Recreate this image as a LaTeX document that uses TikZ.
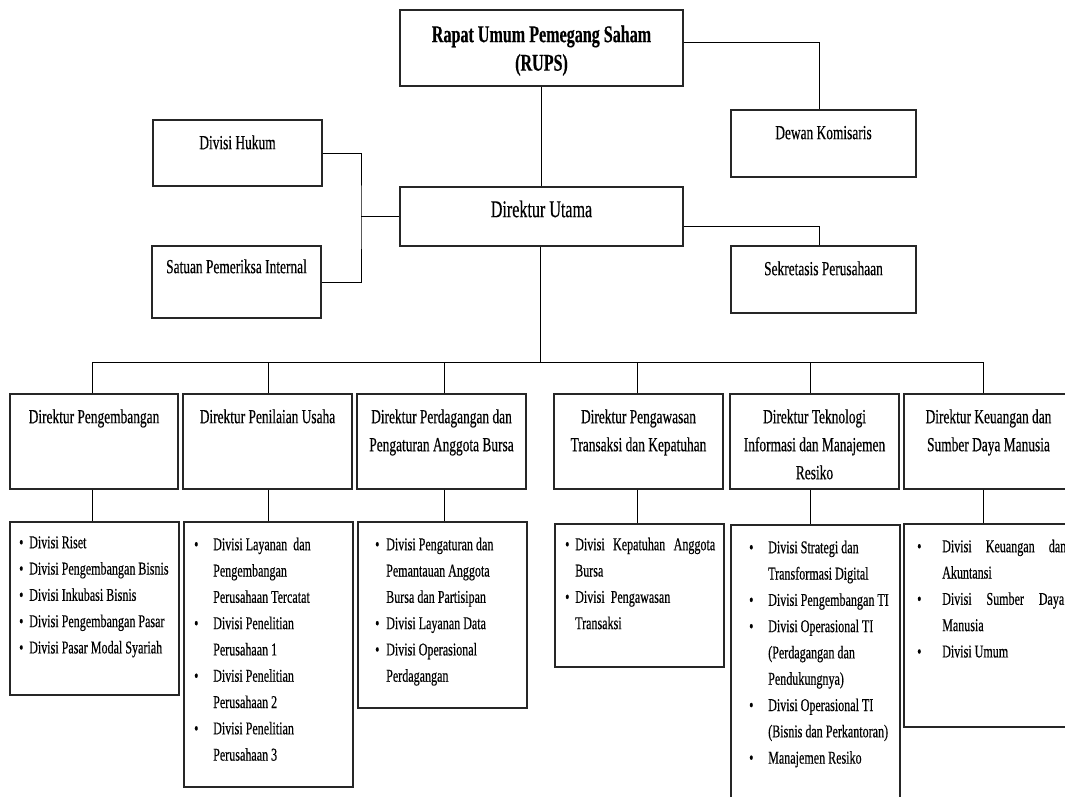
\documentclass[tikz,border=0pt]{standalone}
\usepackage{fontspec}
\setmainfont{Liberation Serif}[FakeStretch=0.67, FakeBold=0.4]
\usetikzlibrary{calc}
\newcommand{\fbig}{\fontsize{24}{28.5}\selectfont}
\newcommand{\fmid}{\fontsize{20}{28}\selectfont}
\newcommand{\fsub}{\fontsize{18}{26.3}\selectfont}
\newcommand{\bl}[1]{\makebox[#1][l]{\textbullet}}
\newcommand{\ind}[1]{\hspace*{#1}}
\begin{document}
\begin{tikzpicture}[x=1pt,y=-1pt,
  box/.style={draw=black!85, line width=1.3pt, rectangle, inner sep=0pt},
  conn/.style={draw=black, line width=1pt},
  ttl/.style={inner sep=0pt, anchor=north, align=center, text=black},
  lst/.style={inner sep=0pt, anchor=north west, align=left, font=\fsub}]
\useasboundingbox (0,0) rectangle (1065,796);
\fill[white] (0,0) rectangle (1065,796);

% top boxes
\node[box, minimum width=283, minimum height=76] (rups) at (541.5,48) {};
\node[box, minimum width=283, minimum height=59] (du) at (541.5,216.5) {};
\node[box, minimum width=169, minimum height=66] (hukum) at (237.5,153) {};
\node[box, minimum width=169, minimum height=72] (spi) at (236.5,282) {};
\node[box, minimum width=185, minimum height=67] (dewan) at (823.5,143.5) {};
\node[box, minimum width=185, minimum height=67] (sek) at (823.5,279.5) {};

\node[ttl, font=\fbig\bfseries] (t-rups) at (541.5,22) {\strut Rapat Umum Pemegang Saham\\(RUPS)};
\node[ttl, font=\fbig] (t-du) at (541.5,197) {\strut Direktur Utama};
\node[ttl, font=\fmid] (t-hukum) at (237.5,129.4) {\strut Divisi Hukum};
\node[ttl, font=\fmid] (t-spi) at (236.5,253.4) {\strut Satuan Pemeriksa Internal};
\node[ttl, font=\fmid] (t-dewan) at (823.5,119.4) {\strut Dewan Komisaris};
\node[ttl, font=\fmid] (t-sek) at (823.5,255.4) {\strut Sekretasis Perusahaan};

% top connectors
\draw[conn] (rups.south) -- (du.north);
\draw[conn] ([yshift=6pt]rups.east) -| ([xshift=-4.5pt]dewan.north);
\draw[conn] ([yshift=-9.5pt]du.east) -| ([xshift=-4.5pt]sek.north);
\coordinate (lj) at (361,216.5);
\draw[conn] (hukum.east) -| (lj) |- (spi.east);
\draw[conn] (lj) -- (du.west);

% director boxes
\node[box, minimum width=168, minimum height=95] (d1) at (94,441.5) {};
\node[box, minimum width=169, minimum height=95] (d2) at (267.5,441.5) {};
\node[box, minimum width=169, minimum height=95] (d3) at (441.5,441.5) {};
\node[box, minimum width=169, minimum height=95] (d4) at (638.5,441.5) {};
\node[box, minimum width=169, minimum height=95] (d5) at (814.5,441.5) {};
\node[box, minimum width=169, minimum height=95] (d6) at (988.5,441.5) {};

\node[ttl, font=\fmid] (t-d1) at (94,403.4) {\strut Direktur Pengembangan};
\node[ttl, font=\fmid] (t-d2) at (267.5,403.4) {\strut Direktur Penilaian Usaha};
\node[ttl, font=\fmid] (t-d3) at (441.5,403.4) {\strut Direktur Perdagangan dan\\Pengaturan Anggota Bursa};
\node[ttl, font=\fmid] (t-d4) at (638.5,403.4) {\strut Direktur Pengawasan\\Transaksi dan Kepatuhan};
\node[ttl, font=\fmid] (t-d5) at (814.5,403.4) {\strut Direktur Teknologi\\Informasi dan Manajemen\\Resiko};
\node[ttl, font=\fmid] (t-d6) at (988.5,403.4) {\strut Direktur Keuangan dan\\Sumber Daya Manusia};

% drop points
\coordinate (p1) at ([xshift=-2pt]d1.north);
\coordinate (p2) at ([xshift=0.5pt]d2.north);
\coordinate (p3) at ([xshift=2.5pt]d3.north);
\coordinate (p4) at ([xshift=-1.5pt]d4.north);
\coordinate (p5) at ([xshift=-4.5pt]d5.north);
\coordinate (p6) at ([xshift=-5.5pt]d6.north);

% bus
\coordinate (bus) at (540,362);
\draw[conn] ([xshift=-1.5pt]du.south) -- (bus);
\draw[conn] (p1 |- bus) -- (p6 |- bus);
\foreach \p in {p1,p2,p3,p4,p5,p6} {\draw[conn] (\p) -- (\p |- bus);}

% sub boxes
\node[box, minimum width=169, minimum height=173] (s1) at (94.5,608.5) {};
\node[box, minimum width=169, minimum height=265] (s2) at (268.5,654.5) {};
\node[box, minimum width=169, minimum height=186] (s3) at (442.5,615) {};
\node[box, minimum width=169, minimum height=143] (s4) at (639.5,595.5) {};
\node[box, minimum width=169, minimum height=285] (s5) at (815.5,667.5) {};
\node[box, minimum width=169, minimum height=203] (s6) at (988.5,625.5) {};

\draw[conn] (p1 |- d1.south) -- (p1 |- s1.north);
\draw[conn] (p2 |- d2.south) -- (p2 |- s2.north);
\draw[conn] (p3 |- d3.south) -- (p3 |- s3.north);
\draw[conn] (p4 |- d4.south) -- (p4 |- s4.north);
\draw[conn] (p5 |- d5.south) -- (p5 |- s5.north);
\draw[conn] (p6 |- d6.south) -- (p6 |- s6.north);

% sub texts
\node[lst] (l1) at (19,529.6) {\strut\bl{10pt}Divisi Riset\\
\bl{10pt}Divisi Pengembangan Bisnis\\
\bl{10pt}Divisi Inkubasi Bisnis\\
\bl{10pt}Divisi Pengembangan Pasar\\
\bl{10pt}Divisi Pasar Modal Syariah};

\node[lst] (l2) at (194,531.6) {\strut\bl{19pt}Divisi Layanan\ \ dan\\
\ind{19pt}Pengembangan\\
\ind{19pt}Perusahaan Tercatat\\
\bl{19pt}Divisi Penelitian\\
\ind{19pt}Perusahaan 1\\
\bl{19pt}Divisi Penelitian\\
\ind{19pt}Perusahaan 2\\
\bl{19pt}Divisi Penelitian\\
\ind{19pt}Perusahaan 3};

\node[lst] (l3) at (375,531.6) {\strut\bl{11pt}Divisi Pengaturan dan\\
\ind{11pt}Pemantauan Anggota\\
\ind{11pt}Bursa dan Partisipan\\
\bl{11pt}Divisi Layanan Data\\
\bl{11pt}Divisi Operasional\\
\ind{11pt}Perdagangan};

\node[lst] (l4) at (565,531.6) {\strut\bl{10pt}\makebox[140pt][s]{Divisi Kepatuhan Anggota}\\
\ind{10pt}Bursa\\
\bl{10pt}Divisi\ \ Pengawasan\\
\ind{10pt}Transaksi};

\node[lst] (l5) at (749,534.6) {\strut\bl{19pt}Divisi Strategi dan\\
\ind{19pt}Transformasi Digital\\
\bl{19pt}Divisi Pengembangan TI\\
\bl{19pt}Divisi Operasional TI\\
\ind{19pt}(Perdagangan dan\\
\ind{19pt}Pendukungnya)\\
\bl{19pt}Divisi Operasional TI\\
\ind{19pt}(Bisnis dan Perkantoran)\\
\bl{19pt}Manajemen Resiko};

\node[lst] (l6) at (917,533.6) {\strut\bl{25pt}\makebox[124pt][s]{Divisi Keuangan dan}\\
\ind{25pt}Akuntansi\\
\bl{25pt}\makebox[122pt][s]{Divisi Sumber Daya}\\
\ind{25pt}Manusia\\
\bl{25pt}Divisi Umum};
\end{tikzpicture}
\end{document}
